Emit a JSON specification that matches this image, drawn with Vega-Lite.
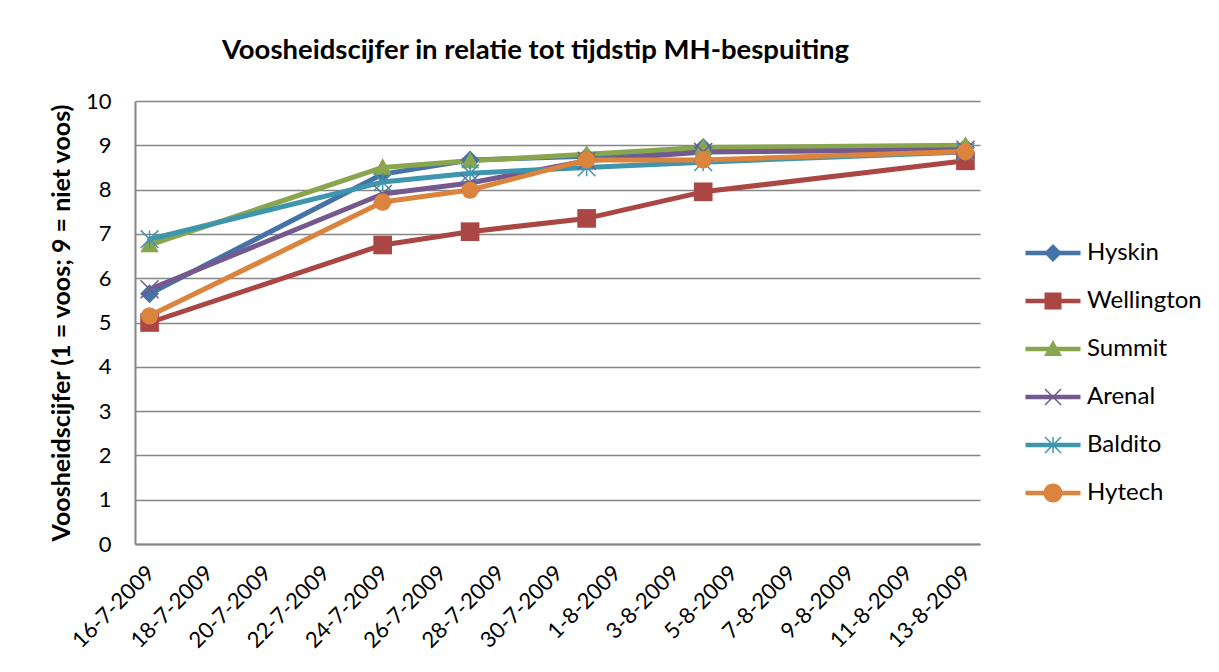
{
  "$schema": "https://vega.github.io/schema/vega-lite/v6.json",
  "autosize": "none",
  "width": 845,
  "height": 443,
  "padding": {"left": 135, "top": 101, "right": 239, "bottom": 128},
  "background": "white",
  "title": {
    "text": "Voosheidscijfer in relatie tot tijdstip MH-bespuiting",
    "font": "Lato",
    "fontSize": 27.5,
    "fontWeight": "bold",
    "color": "black",
    "anchor": "middle",
    "dx": -22,
    "offset": 26
  },
  "data": {
    "values": [
      {"ras": "Hyskin", "datum": "2009-07-16", "v": 5.65},
      {"ras": "Hyskin", "datum": "2009-07-24", "v": 8.35},
      {"ras": "Hyskin", "datum": "2009-07-27", "v": 8.67},
      {"ras": "Hyskin", "datum": "2009-07-31", "v": 8.75},
      {"ras": "Hyskin", "datum": "2009-08-04", "v": 8.95},
      {"ras": "Hyskin", "datum": "2009-08-13", "v": 8.95},
      {"ras": "Wellington", "datum": "2009-07-16", "v": 5.0},
      {"ras": "Wellington", "datum": "2009-07-24", "v": 6.75},
      {"ras": "Wellington", "datum": "2009-07-27", "v": 7.05},
      {"ras": "Wellington", "datum": "2009-07-31", "v": 7.35},
      {"ras": "Wellington", "datum": "2009-08-04", "v": 7.95},
      {"ras": "Wellington", "datum": "2009-08-13", "v": 8.65},
      {"ras": "Summit", "datum": "2009-07-16", "v": 6.75},
      {"ras": "Summit", "datum": "2009-07-24", "v": 8.5},
      {"ras": "Summit", "datum": "2009-07-27", "v": 8.65},
      {"ras": "Summit", "datum": "2009-07-31", "v": 8.8},
      {"ras": "Summit", "datum": "2009-08-04", "v": 8.95},
      {"ras": "Summit", "datum": "2009-08-13", "v": 9.0},
      {"ras": "Arenal", "datum": "2009-07-16", "v": 5.75},
      {"ras": "Arenal", "datum": "2009-07-24", "v": 7.9},
      {"ras": "Arenal", "datum": "2009-07-27", "v": 8.15},
      {"ras": "Arenal", "datum": "2009-07-31", "v": 8.65},
      {"ras": "Arenal", "datum": "2009-08-04", "v": 8.85},
      {"ras": "Arenal", "datum": "2009-08-13", "v": 8.9},
      {"ras": "Baldito", "datum": "2009-07-16", "v": 6.88},
      {"ras": "Baldito", "datum": "2009-07-24", "v": 8.17},
      {"ras": "Baldito", "datum": "2009-07-27", "v": 8.37},
      {"ras": "Baldito", "datum": "2009-07-31", "v": 8.5},
      {"ras": "Baldito", "datum": "2009-08-04", "v": 8.62},
      {"ras": "Baldito", "datum": "2009-08-13", "v": 8.85},
      {"ras": "Hytech", "datum": "2009-07-16", "v": 5.15},
      {"ras": "Hytech", "datum": "2009-07-24", "v": 7.72},
      {"ras": "Hytech", "datum": "2009-07-27", "v": 7.99},
      {"ras": "Hytech", "datum": "2009-07-31", "v": 8.67},
      {"ras": "Hytech", "datum": "2009-08-04", "v": 8.67},
      {"ras": "Hytech", "datum": "2009-08-13", "v": 8.86}
    ]
  },
  "encoding": {
    "x": {
      "field": "datum",
      "type": "temporal",
      "scale": {
        "type": "utc",
        "domain": [
          {"year": 2009, "month": 7, "date": 15, "hours": 12, "utc": true},
          {"year": 2009, "month": 8, "date": 13, "hours": 12, "utc": true}
        ]
      },
      "axis": {
        "title": null,
        "labelExpr": "utcFormat(datum.value, '%-d-%-m-%Y')",
        "values": [
          {"year": 2009, "month": 7, "date": 16, "utc": true},
          {"year": 2009, "month": 7, "date": 18, "utc": true},
          {"year": 2009, "month": 7, "date": 20, "utc": true},
          {"year": 2009, "month": 7, "date": 22, "utc": true},
          {"year": 2009, "month": 7, "date": 24, "utc": true},
          {"year": 2009, "month": 7, "date": 26, "utc": true},
          {"year": 2009, "month": 7, "date": 28, "utc": true},
          {"year": 2009, "month": 7, "date": 30, "utc": true},
          {"year": 2009, "month": 8, "date": 1, "utc": true},
          {"year": 2009, "month": 8, "date": 3, "utc": true},
          {"year": 2009, "month": 8, "date": 5, "utc": true},
          {"year": 2009, "month": 8, "date": 7, "utc": true},
          {"year": 2009, "month": 8, "date": 9, "utc": true},
          {"year": 2009, "month": 8, "date": 11, "utc": true},
          {"year": 2009, "month": 8, "date": 13, "utc": true}
        ],
        "labelAngle": -45,
        "labelFont": "Lato",
        "labelFontSize": 22,
        "labelColor": "black",
        "labelPadding": 18,
        "labelOffset": -6,
        "labelOverlap": false,
        "labelFlush": false,
        "ticks": false,
        "grid": false,
        "domainColor": "#868686",
        "domainWidth": 2
      }
    },
    "y": {
      "field": "v",
      "type": "quantitative",
      "scale": {"domain": [0, 10], "nice": false, "zero": true},
      "axis": {
        "title": "Voosheidscijfer (1 = voos; 9 = niet voos)",
        "titleFont": "Lato",
        "titleFontSize": 25,
        "titleFontWeight": "bold",
        "titleColor": "black",
        "titlePadding": 11,
        "values": [0, 1, 2, 3, 4, 5, 6, 7, 8, 9, 10],
        "labelFont": "Lato",
        "labelFontSize": 22,
        "labelColor": "black",
        "labelPadding": 24,
        "ticks": false,
        "grid": true,
        "gridColor": "#868686",
        "gridWidth": 1.6,
        "domainColor": "#868686",
        "domainWidth": 2
      }
    }
  },
  "layer": [
    {
      "mark": {"type": "line", "strokeWidth": 5, "strokeJoin": "round", "strokeCap": "round"},
      "encoding": {
        "color": {
          "field": "ras",
          "type": "nominal",
          "scale": {
            "domain": ["Hyskin", "Wellington", "Summit", "Arenal", "Baldito", "Hytech"],
            "range": ["#4572A7", "#AA4643", "#89A54E", "#74598F", "#3D96AE", "#DB843D"]
          },
          "legend": null
        },
        "detail": {"field": "ras"}
      }
    },
    {
      "mark": {"type": "point", "filled": true, "opacity": 1},
      "encoding": {
        "color": {"field": "ras", "type": "nominal", "legend": null},
        "shape": {
          "field": "ras",
          "type": "nominal",
          "scale": {
            "domain": ["Hyskin", "Wellington", "Summit", "Arenal", "Baldito", "Hytech"],
            "range": [
              "diamond",
              "square",
              "M0,-1L-1,0.8L1,0.8Z",
              "M-1.059,-0.941L0.941,1.059L1.059,0.941L-0.941,-1.059ZM-0.941,1.059L1.059,-0.941L0.941,-1.059L-1.059,0.941Z",
              "M-1.059,-0.941L0.941,1.059L1.059,0.941L-0.941,-1.059ZM-0.941,1.059L1.059,-0.941L0.941,-1.059L-1.059,0.941ZM-0.083,-1L-0.083,1L0.083,1L0.083,-1Z",
              "circle"
            ]
          },
          "legend": null
        },
        "size": {
          "field": "ras",
          "type": "nominal",
          "scale": {
            "domain": ["Hyskin", "Wellington", "Summit", "Arenal", "Baldito", "Hytech"],
            "range": [360, 300, 360, 300, 340, 440]
          },
          "legend": null
        }
      }
    },
    {
      "transform": [{"filter": "datum.v > 100"}],
      "mark": {"type": "point", "filled": true, "opacity": 1},
      "encoding": {
        "color": {
          "field": "ras",
          "type": "nominal",
          "legend": {
            "title": null,
            "orient": "none",
            "legendX": 906,
            "legendY": 140,
            "padding": 0,
            "symbolSize": 100,
            "symbolStrokeWidth": 0,
            "labelFont": "Lato",
            "labelFontSize": 24,
            "labelColor": "black",
            "labelOffset": 22,
            "rowPadding": 24
          }
        },
        "shape": {
          "field": "ras",
          "type": "nominal",
          "scale": {
            "domain": ["Hyskin", "Wellington", "Summit", "Arenal", "Baldito", "Hytech"],
            "range": [
              "M-5.5,-0.45L-5.5,0.45L5.5,0.45L5.5,-0.45ZM0,-1.8L-1.8,0L0,1.8L1.8,0Z",
              "M-5.5,-0.45L-5.5,0.45L5.5,0.45L5.5,-0.45ZM-1.7,-1.7L-1.7,1.7L1.7,1.7L1.7,-1.7Z",
              "M-5.5,-0.45L-5.5,0.45L5.5,0.45L5.5,-0.45ZM0,-1.8L-1.8,1.4L1.8,1.4Z",
              "M-5.5,-0.45L-5.5,0.45L5.5,0.45L5.5,-0.45ZM-1.706,-1.494L1.494,1.706L1.706,1.494L-1.494,-1.706ZM-1.494,1.706L1.706,-1.494L1.494,-1.706L-1.706,1.494Z",
              "M-5.5,-0.45L-5.5,0.45L5.5,0.45L5.5,-0.45ZM-1.706,-1.494L1.494,1.706L1.706,1.494L-1.494,-1.706ZM-1.494,1.706L1.706,-1.494L1.494,-1.706L-1.706,1.494ZM-0.15,-1.6L-0.15,1.6L0.15,1.6L0.15,-1.6Z",
              "M-5.5,-0.45L-5.5,0.45L5.5,0.45L5.5,-0.45ZM1.9,0A1.9,1.9 0 1,0 -1.9,0A1.9,1.9 0 1,0 1.9,0Z"
            ]
          },
          "legend": {"title": null}
        }
      }
    }
  ],
  "resolve": {
    "scale": {"shape": "independent"},
    "legend": {"color": "independent", "shape": "independent"}
  },
  "config": {
    "view": {"stroke": null},
    "font": "Lato"
  }
}
